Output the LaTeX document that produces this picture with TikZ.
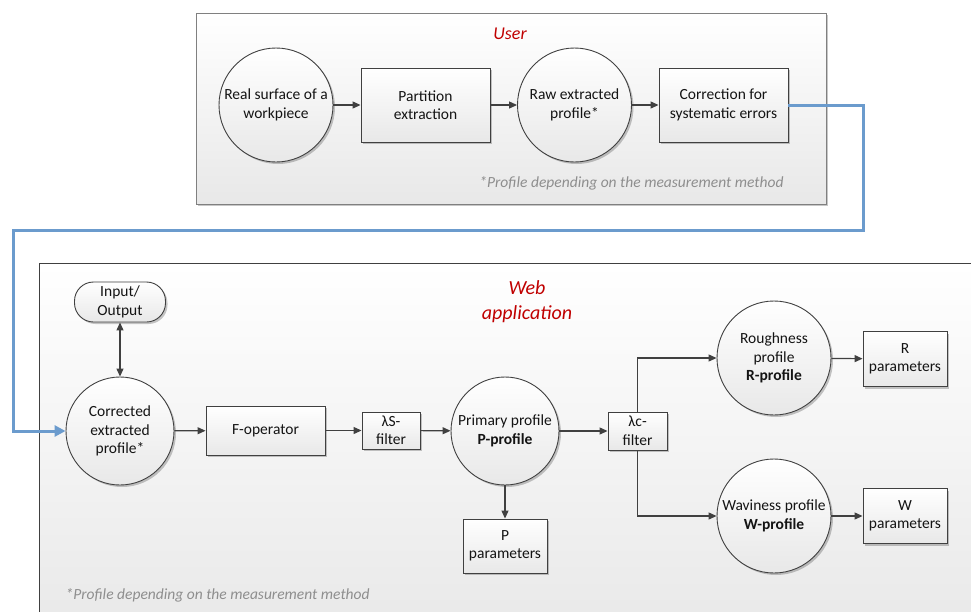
\documentclass[tikz,border=0pt]{standalone}
\usepackage{fontspec}
\setmainfont{Carlito}
\usetikzlibrary{arrows.meta,shadows}

\definecolor{edge}{HTML}{404040}
\definecolor{ink}{HTML}{141414}
\definecolor{titlered}{HTML}{C00000}
\definecolor{notegray}{HTML}{8E8E8E}
\definecolor{linkblue}{HTML}{6B9BCD}

\tikzset{
  every node/.style={font=\fontsize{15.5}{18.5}\selectfont, text=ink},
  softshadow/.style={drop shadow={shadow xshift=2pt, shadow yshift=-2pt, fill=black, opacity=0.22}},
  panel/.style={draw=#1, line width=0.9pt, top color=white, bottom color=black!9, softshadow},
  stepbox/.style={rectangle, draw=edge, line width=0.9pt, top color=white, bottom color=black!9,
    inner sep=0pt, align=center, softshadow},
  stagecirc/.style={circle, draw=edge, line width=0.9pt, top color=white, bottom color=black!9,
    inner sep=0pt, minimum size=#1, align=center, softshadow},
  flow/.style={draw=edge, line width=1.2pt, -{Triangle[length=8pt,width=7pt]}},
  bothflow/.style={draw=edge, line width=1.2pt, {Triangle[length=8pt,width=7pt]}-{Triangle[length=8pt,width=7pt]}},
  bluelink/.style={draw=linkblue, line width=3pt, -{Triangle[length=11pt,width=11pt]}},
  panelTitle/.style={font=\fontsize{#1}{25}\selectfont\itshape, text=titlered, align=center},
  footnote/.style={font=\fontsize{15.5}{18.5}\selectfont\itshape, text=notegray},
}

\begin{document}
\begin{tikzpicture}[x=1pt,y=-1pt]
\clip (0,0) rectangle (971,611);

% ---------- upper panel: user side ----------
\path[panel=black!50] (196,13) rectangle (826,204);
\node[panelTitle=18] (usertitle) at (510,34) {User};

\node[stagecirc=114] (surf) at (276,105) {Real surface of a\\workpiece};
\node[stepbox, minimum width=129pt, minimum height=74pt] (part) at (425.5,105) {Partition\\extraction};
\node[stagecirc=114] (raw) at (574.5,105) {Raw extracted\\profile*};
\node[stepbox, minimum width=129pt, minimum height=74pt] (corr) at (723.5,105) {Correction for\\systematic errors};

\node[footnote, anchor=east] (usernote) at (787,183) {*Profile depending on the measurement method};

\draw[flow] (surf) -- (part);
\draw[flow] (part) -- (raw);
\draw[flow] (raw) -- (corr);

% ---------- lower panel: web application ----------
\path[panel=edge] (39,263) rectangle (1000,640);
\node[panelTitle=20] (webtitle) at (527,302) {Web\\application};

\node[rectangle, rounded corners=19pt, draw=edge, line width=0.9pt, top color=white, bottom color=black!9,
      softshadow, minimum width=91pt, minimum height=40pt, inner sep=0pt, align=center]
      (io) at (120,302) {Input/\\Output};
\node[stagecirc=108] (cep) at (120,431) {Corrected\\extracted\\profile*};
\node[stepbox, minimum width=119pt, minimum height=49pt] (fop) at (265.5,430.5) {F-operator};
\node[stepbox, minimum width=58pt, minimum height=37pt] (ls) at (391,430.5) {λS-\\filter};
\node[stagecirc=108] (prim) at (505,431) {Primary profile\\\textbf{P-profile}};
\node[stepbox, minimum width=84pt, minimum height=54pt] (pp) at (505,546) {P\\parameters};
\node[stepbox, minimum width=59pt, minimum height=38pt] (lc) at (637.5,431) {λc-\\filter};
\node[stagecirc=114] (rough) at (774,358) {Roughness\\profile\\\textbf{R-profile}};
\node[stagecirc=114] (wav) at (774,516) {Waviness profile\\\textbf{W-profile}};
\node[stepbox, minimum width=84pt, minimum height=55pt] (rp) at (905,359) {R\\parameters};
\node[stepbox, minimum width=84pt, minimum height=55pt] (wp) at (905,516) {W\\parameters};

\node[footnote, anchor=west] (webnote) at (62,595) {*Profile depending on the measurement method};

\draw[bothflow] (io) -- (cep);
\draw[flow] (cep) -- (fop);
\draw[flow] (fop) -- (ls);
\draw[flow] (ls) -- (prim);
\draw[flow] (prim) -- (pp);
\draw[flow] (prim) -- (lc);
\draw[flow] (lc.north) |- (rough.west);
\draw[flow] (lc.south) |- (wav.west);
\draw[flow] (rough) -- (rp);
\draw[flow] (wav) -- (wp);

% ---------- hand-over from the user side to the web application ----------
\coordinate (turnA) at (863,230);
\coordinate (turnB) at (13,431);
\draw[bluelink] (corr.east) -| (turnA) -| (turnB) -- (cep.west);
\end{tikzpicture}
\end{document}
